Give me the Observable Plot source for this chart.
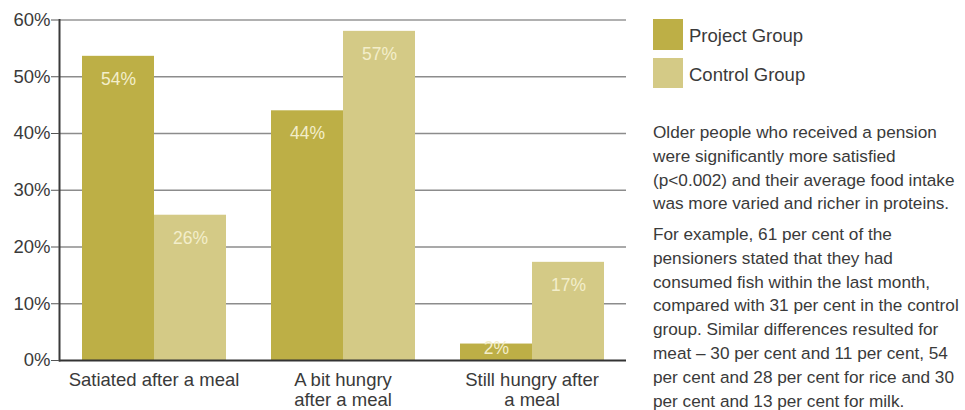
<!DOCTYPE html>
<html>
<head>
<meta charset="utf-8">
<script src="https://cdn.jsdelivr.net/npm/d3@7"></script>
<script src="https://cdn.jsdelivr.net/npm/@observablehq/plot@0.6"></script>
<style>
  html, body { margin: 0; padding: 0; background: #fff; }
  #wrap { position: relative; width: 965px; height: 410px; overflow: hidden; font-family: "Liberation Sans", Arial, sans-serif; color: #3a3a3a; }
  #chart { position: absolute; left: 0; top: 0; }
  .sw { position: absolute; left: 653px; width: 30px; }
  .lt { position: absolute; left: 689px; font-size: 18.5px; line-height: 31px; white-space: nowrap; }
  .para { position: absolute; left: 653px; font-size: 17.2px; line-height: 23.8px; white-space: pre; margin: 0; }
</style>
</head>
<body>
<div id="wrap">
  <div id="chart"></div>
  <div id="legend"></div>
  <p class="para" style="top:121px">Older people who received a pension
were significantly more satisfied
(p&lt;0.002) and their average food intake
was more varied and richer in proteins.</p>
  <p class="para" style="top:223px">For example, 61 per cent of the
pensioners stated that they had
consumed fish within the last month,
compared with 31 per cent in the control
group. Similar differences resulted for
meat – 30 per cent and 11 per cent, 54
per cent and 28 per cent for rice and 30
per cent and 13 per cent for milk.</p>
</div>
<script>
const categories = ["Satiated after a meal", "A bit hungry after a meal", "Still hungry after a meal"];
const categoryTickLabels = ["Satiated after a meal", "A bit hungry\nafter a meal", "Still hungry after\na meal"];
const groups = ["Project Group", "Control Group"];
const groupColors = ["#bdaf46", "#d4ca86"];
const projectValues = [53.6, 44, 2.9];
const controlValues = [25.6, 58, 17.3];
const projectLabels = ["54%", "44%", "2%"];
const controlLabels = ["26%", "57%", "17%"];
const yTicks = [0, 10, 20, 30, 40, 50, 60];
const gridTicks = [10, 20, 30, 40, 50];

const data = categories.flatMap((c, i) => [
  {cat: c, group: groups[0], value: projectValues[i], label: projectLabels[i]},
  {cat: c, group: groups[1], value: controlValues[i], label: controlLabels[i]}
]);

const chart = Plot.plot({
  width: 640,
  height: 410,
  marginLeft: 58,
  marginRight: 13,
  marginTop: 19.5,
  marginBottom: 50,
  style: {fontFamily: "'Liberation Sans', Arial, sans-serif", fontSize: "18.5px", color: "#3a3a3a", background: "transparent"},
  fx: {domain: categories, padding: 0, axis: null},
  x: {domain: groups, paddingInner: 0, paddingOuter: 0.308, axis: null},
  y: {domain: [0, 60], axis: null},
  color: {domain: groups, range: groupColors},
  marks: [
    Plot.ruleY(gridTicks, {stroke: "#8c8c8c", strokeWidth: 1.3}),
    Plot.ruleY([60], {stroke: "#b0b0b0", strokeWidth: 2}),
    Plot.barY(data, {fx: "cat", x: "group", y: "value", fill: "group"}),
    Plot.text(data.filter(d => d.value >= 8), {fx: "cat", x: "group", y: "value", text: "label", dy: 23, fill: "#f3eecb", fontSize: 17.5}),
    Plot.text(data.filter(d => d.value < 8), {fx: "cat", x: "group", text: "label", frameAnchor: "bottom", dy: -7, fill: "#f3eecb", fontSize: 17.5}),
    Plot.ruleY([0], {stroke: "#333", strokeWidth: 2}),
    Plot.frame({anchor: "left", facetAnchor: "left", stroke: "#3a3a3a", strokeWidth: 2}),
    Plot.axisY({ticks: yTicks, tickFormat: d => d + "%", tickSize: 8, tickPadding: 1, label: null, stroke: "#555"}),
    Plot.axisFx({anchor: "bottom", tickSize: 0, tickPadding: 11, label: null, lineHeight: 1.1, tickFormat: d => categoryTickLabels[categories.indexOf(d)]})
  ]
});
document.getElementById("chart").appendChild(chart);

const legend = document.getElementById("legend");
const swTops = [19, 58];
const swHeights = [31, 30];
groups.forEach((g, i) => {
  const sw = document.createElement("div");
  sw.className = "sw";
  sw.style.top = swTops[i] + "px";
  sw.style.height = swHeights[i] + "px";
  sw.style.background = groupColors[i];
  legend.appendChild(sw);
  const t = document.createElement("div");
  t.className = "lt";
  t.style.top = (swTops[i] + 1) + "px";
  t.textContent = g;
  legend.appendChild(t);
});
</script>
</body>
</html>
